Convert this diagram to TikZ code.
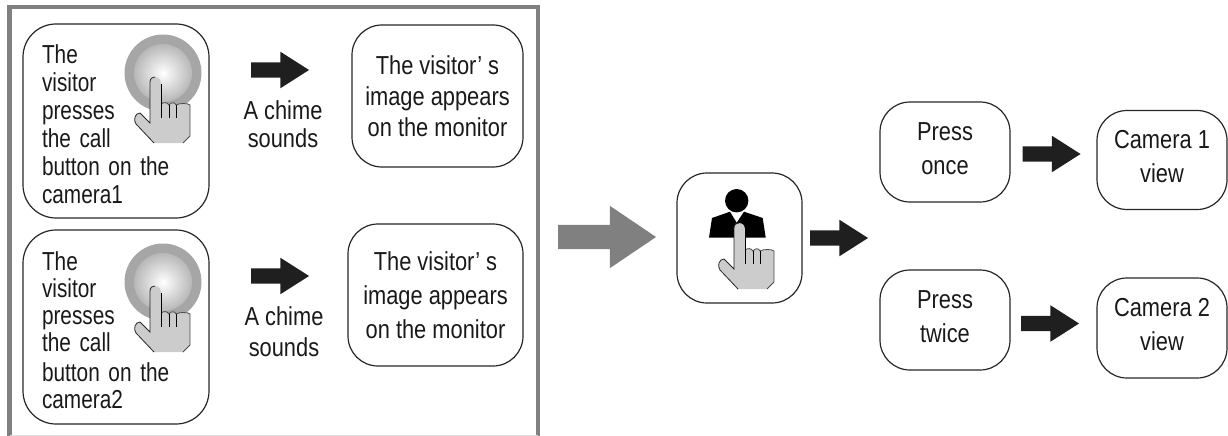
\documentclass[tikz,border=0pt]{standalone}
\usepackage{fontspec}
\setmainfont{Liberation Sans}[FakeStretch=0.84]
\newfontfamily\visitorface{Liberation Sans}[FakeStretch=0.80]
\usetikzlibrary{shapes.arrows}

\begin{document}
\begin{tikzpicture}
[x=1pt,y=-1pt,
 panel/.style={shape=rectangle,draw=black!85,line width=1.2pt,rounded corners=30pt,align=center,
   font=\fontsize{26}{34}\selectfont,text=black!90,inner sep=0pt},
 viewpanel/.style={panel,minimum width=130pt,minimum height=100pt,
   execute at end node={\rule[-7pt]{0pt}{0pt}}},
 visitorpanel/.style={panel,rounded corners=33pt,minimum width=186pt,minimum height=194pt,text width=148pt,align=left,
   font=\visitorface\fontsize{26}{28}\selectfont,
   execute at begin node={\rule{0pt}{25pt}}},
 imagepanel/.style={panel,minimum height=142pt},
 chime/.style={align=center,text=black!90,inner sep=0pt},
 blockarrow/.style={shape=single arrow,fill=black!88,minimum width=36pt,minimum height=58pt,
   single arrow head extend=10.5pt,single arrow tip angle=65,inner xsep=0pt,inner ysep=7.5pt},
 bigarrow/.style={blockarrow,fill=black!50,inner ysep=12pt,minimum width=62pt,minimum height=98pt,
   single arrow head extend=19pt,single arrow tip angle=68},
 callbutton/.pic={
   \fill [black!35] (0,0) circle (38.5);
   \shade [inner color=white,outer color=black!28] (0,0) circle (29);
 },
 hand/.pic={
   \fill [black!20] (-5,5) .. controls (-5,1) and (-2,0) .. (0,0) .. controls (4,0) and (6,3) .. (6,7)
     -- (6,27) .. controls (9,25) and (12,25) .. (14,28) .. controls (16,25) and (20,25) .. (21,28)
     .. controls (24,26) and (33,26) .. (35,28) -- (35,59) -- (28,66) -- (-1,66) -- (-19,47)
     .. controls (-22,43) and (-20,36) .. (-15,36) -- (-5,46) -- cycle;
   \draw [black!85,line width=0.8pt] (-1,66) -- (-19,47) .. controls (-22,43) and (-20,36) .. (-15,36)
     -- (-5,46) -- (-5,5) .. controls (-5,1) and (-2,0) .. (0,0);
   \draw [black!70,line width=0.8pt] (28,66) -- (35,59) -- (35,28) .. controls (33,26) and (24,26) .. (21,28)
     .. controls (20,25) and (16,25) .. (14,28) .. controls (12,25) and (9,25) .. (6,27);
   \draw [black,line width=0.7pt] (6,7) -- (6,41) (14,28) -- (14,41) (21,28) -- (21,41);
 }]

\useasboundingbox (0,0) rectangle (1228,436);

\draw [black!50,line width=4.4pt] (9.5,436) -- (9.5,7) -- (538,7) -- (538,436);
\draw [black!12,line width=1pt] (9.5,435) -- (538,435);

% upper row
\draw (116,121) node (visitor1) [visitorpanel]
	{The\\visitor\\presses\\the call\\button on the\\camera1};
\draw (437.5,96) node (image1) [imagepanel,minimum width=171pt,font=\fontsize{26}{31}\selectfont]
	{The visitor’ s\\image appears\\on the monitor};
\draw (274,70) node (arrow1) [blockarrow] {};
\draw (283,124) node (chime1) [chime,font=\fontsize{26}{28}\selectfont] {A chime\\sounds};
\draw (163,73) pic {callbutton};
\draw (155,77) pic {hand};

% lower row
\draw (116,327) node (visitor2) [visitorpanel,font=\visitorface\fontsize{26}{27}\selectfont,
   execute at begin node={\rule{0pt}{21pt}}]
	{The\\visitor\\presses\\the call\\[3pt]button on the\\camera2};
\draw (435.5,295) node (image2) [imagepanel,minimum width=175pt,font=\fontsize{26}{34}\selectfont]
	{The visitor’ s\\image appears\\on the monitor};
\draw (274,276) node (arrow2) [blockarrow] {};
\draw (284,332) node (chime2) [chime,font=\fontsize{26}{31}\selectfont] {A chime\\sounds};
\draw (163,282) pic {callbutton};
\draw (155,286) pic {hand};

\draw (598,237) node (arrow3) [bigarrow] {};

% monitor button
\draw (739.5,238) node (monitor) [panel,minimum width=125pt,minimum height=130pt] {};
\fill (736.7,200.7) circle (11.7);
\fill (709,237.5) -- (712,218) -- (730,211.7) -- (736.7,222.7) -- (744,211.7) -- (762.7,218) -- (765.7,237.5) -- cycle;
\draw (739,223) pic {hand};
\draw (833,238) node (arrow4) [blockarrow] {};

% views
\draw (945,152) node (once) [viewpanel] {Press\\once};
\draw (945,320) node (twice) [viewpanel] {Press\\twice};
\draw (1162,160) node (view1) [viewpanel,minimum height=99pt] {Camera 1\\view};
\draw (1162,328) node (view2) [viewpanel] {Camera 2\\view};
\draw (1045.5,154) node (arrow5) [blockarrow] {};
\draw (1044,323.5) node (arrow6) [blockarrow] {};

\end{tikzpicture}
\end{document}
